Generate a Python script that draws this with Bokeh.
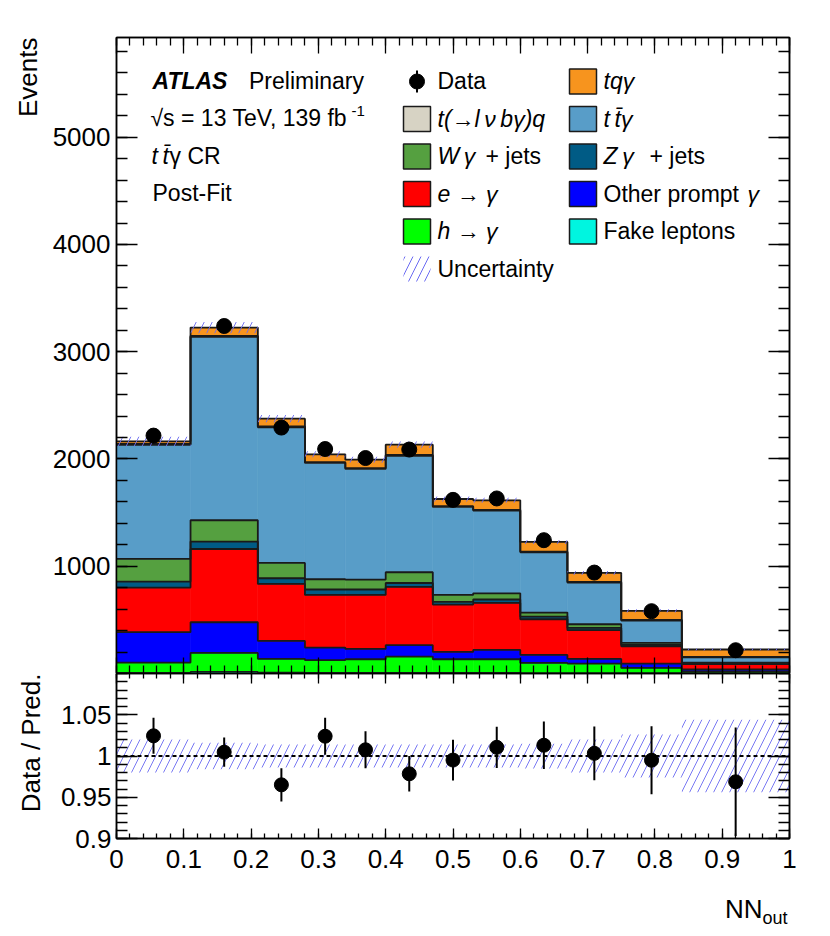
import math
from bokeh.plotting import figure
from bokeh.models import (FixedTicker, LinearAxis, Range1d, Label, Span, Title,
                          CustomJSTickFormatter)
from bokeh.layouts import column
from bokeh.embed import file_html
from bokeh.resources import INLINE

# ---------------- data ----------------
bin_edges = [0.0, 0.11, 0.21, 0.28, 0.34, 0.40, 0.47, 0.53, 0.60, 0.67, 0.75, 0.84, 1.0]

fake_leptons = [6, 15, 8, 5, 5, 6, 5, 5, 4, 4, 3, 3]
h_to_gamma   = [96, 177, 129, 119, 128, 152, 128, 128, 95, 89, 49, 17]
other_prompt = [283, 286, 167, 118, 96, 106, 68, 87, 74, 43, 41, 18]
e_to_gamma   = [416, 683, 531, 491, 504, 543, 442, 438, 333, 268, 161, 49]
zgamma_jets  = [56, 69, 53, 50, 50, 37, 24, 32, 25, 21, 13, 8]
wgamma_jets  = [211, 199, 143, 96, 93, 100, 66, 58, 37, 34, 18, 7]
ttgamma      = [1065, 1711, 1265, 1084, 1031, 1086, 820, 771, 562, 389, 209, 48]
t_lnubgq     = [8, 8, 8, 8, 8, 8, 7, 7, 7, 7, 6, 5]
tqgamma      = [24, 77, 72, 73, 79, 96, 67, 89, 90, 83, 84, 69]

data_events  = [2218, 3240, 2293, 2093, 2009, 2088, 1619, 1632, 1243, 941, 581, 217]
rel_uncert   = [0.020, 0.016, 0.014, 0.014, 0.014, 0.014, 0.014, 0.014, 0.015, 0.020, 0.026, 0.044]

stack_values = [fake_leptons, h_to_gamma, other_prompt, e_to_gamma, zgamma_jets,
                wgamma_jets, ttgamma, t_lnubgq, tqgamma]
stack_colors = ["#00f5e0", "#00ff00", "#0000ff", "#ff0000", "#005b85",
                "#55a040", "#589dc8", "#d7d3c4", "#f7941e"]

x_major = [0.0, 0.1, 0.2, 0.3, 0.4, 0.5, 0.6, 0.7, 0.8, 0.9, 1.0]
y_major = [1000, 2000, 3000, 4000, 5000]
r_major = [0.9, 0.95, 1.0, 1.05]

# ---------------- layout constants ----------------
FW, FH, RH = 673, 636, 165
BL, BR, BT = 116, 30, 37
RBB = 56            # ratio bottom border (x tick labels)
NH = 37             # strip holding the x title
YMAX = 5930
FONT = "Liberation Sans"
HATCH = "#6a6af2"

X0, YT = BL, BT
YB = YT + FH
RB = YB + RH
QTOP = RB + RBB


def mx(px):
    return (px - X0) / FW


def my(py):
    return (YB - py) * YMAX / FH


def qy(py):
    return QTOP + NH - py


def label(p, x, yfun, base_px, text, size=23, style="normal", align="left"):
    # base_px: wanted baseline position in page pixels (empirical offset applied)
    y = yfun(base_px - 0.35 * size)
    p.add_layout(Label(x=x, y=y, text=text, text_font=FONT, text_font_size=f"{size}px",
                       text_font_style=style, text_align=align,
                       text_baseline="alphabetic", text_color="black"))


fmt = CustomJSTickFormatter(code="return tick.toString();")
blank_fmt = CustomJSTickFormatter(code="return '';")


def style_axis(ax, major_in, minor_in, show_labels, standoff=6):
    ax.major_tick_in = major_in
    ax.major_tick_out = 0
    ax.minor_tick_in = minor_in
    ax.minor_tick_out = 0
    ax.axis_line_color = "black"
    ax.axis_line_width = 1.5
    ax.major_tick_line_color = "black"
    ax.minor_tick_line_color = "black"
    ax.major_tick_line_width = 1.3
    ax.minor_tick_line_width = 1.3
    ax.axis_label = None
    if show_labels:
        ax.formatter = fmt
        ax.major_label_text_font = FONT
        ax.major_label_text_font_size = "26px"
        ax.major_label_text_color = "black"
        ax.major_label_standoff = standoff
    else:
        ax.formatter = blank_fmt
        ax.major_label_text_font_size = "1px"
        ax.major_label_standoff = 0


def side_title(p, text, standoff):
    p.add_layout(Title(text=text, align="right", text_font=FONT, text_font_size="26px",
                       text_font_style="normal", text_color="black", standoff=standoff), "left")


x_ticker = FixedTicker(ticks=x_major, minor_ticks=[round(0.02 * i, 2) for i in range(51)])
y_ticker = FixedTicker(ticks=y_major, minor_ticks=[200 * i for i in range(30)])
r_ticker = FixedTicker(ticks=r_major, minor_ticks=[round(0.9 + 0.01 * i, 2) for i in range(21)])

centers = [(bin_edges[i] + bin_edges[i + 1]) / 2 for i in range(len(bin_edges) - 1)]
lefts, rights = bin_edges[:-1], bin_edges[1:]
nb = len(centers)

# ---------------- main panel ----------------
p = figure(frame_width=FW, frame_height=FH, x_range=Range1d(0, 1), y_range=Range1d(0, YMAX),
           output_backend="svg", toolbar_location=None,
           min_border_left=BL, min_border_right=BR, min_border_top=BT, min_border_bottom=0)
p.grid.visible = False
p.outline_line_color = "black"
p.outline_line_width = 1.5
p.background_fill_color = "white"
p.border_fill_color = "white"

style_axis(p.xaxis[0], 16, 8, False)
p.xaxis[0].ticker = x_ticker
style_axis(p.yaxis[0], 21, 11, True, standoff=6)
p.yaxis[0].ticker = y_ticker
side_title(p, "Events", 14)

top_ax = LinearAxis(ticker=x_ticker)
style_axis(top_ax, 16, 8, False)
p.add_layout(top_ax, "above")
right_ax = LinearAxis(ticker=y_ticker)
style_axis(right_ax, 21, 11, False)
p.add_layout(right_ax, "right")

# stacked fills
cum_prev = [0.0] * nb
cum_tops = []
for vals, col in zip(stack_values, stack_colors):
    cum = [cum_prev[i] + vals[i] for i in range(nb)]
    p.quad(left=lefts, right=rights, bottom=cum_prev, top=cum, fill_color=col,
           line_color=col, line_width=0.6)
    cum_tops.append(cum)
    cum_prev = cum
total = cum_prev

# step outlines
for cum in cum_tops:
    p.step(x=bin_edges, y=cum + [cum[-1]], mode="after", line_color="#1a1a1a", line_width=1.8)

# uncertainty band on total
p.quad(left=lefts, right=rights,
       bottom=[total[i] * (1 - rel_uncert[i]) for i in range(nb)],
       top=[total[i] * (1 + rel_uncert[i]) for i in range(nb)],
       fill_color=None, line_color=None, hatch_pattern="/", hatch_color=HATCH,
       hatch_scale=16, hatch_weight=1.0, hatch_alpha=0.9)

# data
derr = [math.sqrt(d) for d in data_events]
p.segment(x0=centers, y0=[d - e for d, e in zip(data_events, derr)],
          x1=centers, y1=[d + e for d, e in zip(data_events, derr)],
          line_color="black", line_width=2)
p.scatter(centers, data_events, size=15, color="black")

# texts
label(p, mx(152), my, 88.5, "ATLAS", style="bold italic")
label(p, mx(248.5), my, 88.5, "Preliminary")
label(p, mx(150), my, 126, "\u221as = 13 TeV, 139 fb")
label(p, mx(351), my, 116, "-1", size=15)
label(p, mx(151), my, 163.5, "t\u2009t\u0304", style="italic")
label(p, mx(169), my, 163.5, "\u03b3 CR")
label(p, mx(152), my, 201, "Post-Fit")

# legend
rows = [81, 118.5, 156, 193.5, 231, 268.5]
c1_box, c2_box = (403, 430), (569, 596)
c1_txt, c2_txt = 437, 603


def swatch(colbox, row, color):
    p.quad(left=[mx(colbox[0])], right=[mx(colbox[1])], top=[my(row - 12.5)],
           bottom=[my(row + 12.5)], fill_color=color, line_color="#1a1a1a", line_width=1.5)


# column 1
p.segment(x0=[mx(416.5)], y0=[my(70)], x1=[mx(416.5)], y1=[my(92)], line_color="black", line_width=2)
p.scatter([mx(416.5)], [my(81)], size=15, color="black")
label(p, mx(c1_txt), my, rows[0] + 8, "Data")
swatch(c1_box, rows[1], stack_colors[7])
label(p, mx(c1_txt), my, rows[1] + 8, "t(\u2192l\u2009\u03bd\u2009b\u03b3)q", style="italic")
swatch(c1_box, rows[2], stack_colors[5])
label(p, mx(c1_txt), my, rows[2] + 8, "W\u2009\u03b3", style="italic")
label(p, mx(485), my, rows[2] + 8, "+ jets")
swatch(c1_box, rows[3], stack_colors[3])
label(p, mx(c1_txt), my, rows[3] + 8, "e \u2192 \u03b3", style="italic")
swatch(c1_box, rows[4], stack_colors[1])
label(p, mx(c1_txt), my, rows[4] + 8, "h \u2192 \u03b3", style="italic")
p.quad(left=[mx(c1_box[0])], right=[mx(c1_box[1])], top=[my(rows[5] - 12.5)],
       bottom=[my(rows[5] + 12.5)], fill_color=None, line_color=None,
       hatch_pattern="/", hatch_color=HATCH, hatch_scale=16, hatch_weight=1.0)
label(p, mx(c1_txt), my, rows[5] + 8, "Uncertainty")

# column 2
swatch(c2_box, rows[0], stack_colors[8])
label(p, mx(c2_txt), my, rows[0] + 8, "tq\u03b3", style="italic")
swatch(c2_box, rows[1], stack_colors[6])
label(p, mx(c2_txt), my, rows[1] + 8, "t\u2009t\u0304\u03b3", style="italic")
swatch(c2_box, rows[2], stack_colors[4])
label(p, mx(c2_txt), my, rows[2] + 8, "Z\u2009\u03b3", style="italic")
label(p, mx(649), my, rows[2] + 8, "+ jets")
swatch(c2_box, rows[3], stack_colors[2])
label(p, mx(c2_txt), my, rows[3] + 8, "Other prompt")
label(p, mx(747), my, rows[3] + 8, "\u03b3", style="italic")
swatch(c2_box, rows[4], stack_colors[0])
label(p, mx(c2_txt), my, rows[4] + 8, "Fake leptons")

# ---------------- ratio panel ----------------
r = figure(frame_width=FW, frame_height=RH, x_range=p.x_range, y_range=Range1d(0.9, 1.1),
           output_backend="svg", toolbar_location=None,
           min_border_left=BL, min_border_right=BR, min_border_top=0, min_border_bottom=RBB)
r.grid.visible = False
r.outline_line_color = "black"
r.outline_line_width = 1.5
r.background_fill_color = "white"
r.border_fill_color = "white"

style_axis(r.xaxis[0], 10, 5, True, standoff=11)
r.xaxis[0].ticker = x_ticker
style_axis(r.yaxis[0], 21, 11, True, standoff=5)
r.yaxis[0].ticker = r_ticker
side_title(r, "Data / Pred.", 24)
rtop = LinearAxis(ticker=x_ticker)
style_axis(rtop, 10, 5, False)
r.add_layout(rtop, "above")
rright = LinearAxis(ticker=r_ticker)
style_axis(rright, 21, 11, False)
r.add_layout(rright, "right")

r.quad(left=lefts, right=rights, bottom=[1 - u for u in rel_uncert], top=[1 + u for u in rel_uncert],
       fill_color=None, line_color=None, hatch_pattern="/", hatch_color=HATCH,
       hatch_scale=16, hatch_weight=1.0, hatch_alpha=0.9)
r.add_layout(Span(location=1.0, dimension="width", line_color="black", line_width=2, line_dash="4 3"))

ratio = [d / t for d, t in zip(data_events, total)]
rerr = [e / t for e, t in zip(derr, total)]
r.segment(x0=centers, y0=[a - b for a, b in zip(ratio, rerr)], x1=centers,
          y1=[a + b for a, b in zip(ratio, rerr)], line_color="black", line_width=2)
r.scatter(centers, ratio, size=14, color="black")

# ---------------- strip for the x-axis title ----------------
q = figure(frame_width=FW, frame_height=NH, x_range=Range1d(0, 1), y_range=Range1d(0, NH),
           output_backend="svg", toolbar_location=None, x_axis_location=None, y_axis_location=None,
           min_border_left=BL, min_border_right=BR, min_border_top=0, min_border_bottom=0)
q.grid.visible = False
q.outline_line_color = None
q.background_fill_color = "white"
q.border_fill_color = "white"
label(q, mx(762), qy, 918, "NN", size=26, align="right")
label(q, mx(762), qy, 924, "out", size=18, align="left")

layout = column(p, r, q, spacing=0)
open("out.html", "w").write(file_html(layout, INLINE))
